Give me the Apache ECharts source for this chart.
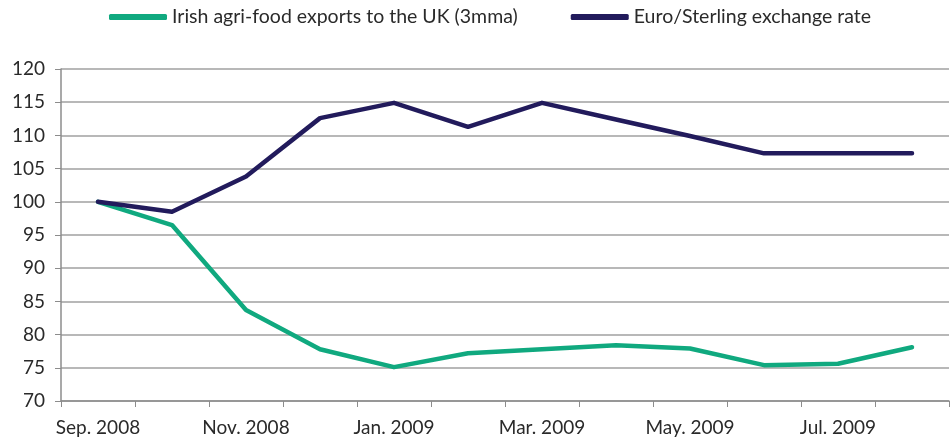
<!DOCTYPE html>
<html>
<head>
<meta charset="utf-8">
<script src="https://cdn.jsdelivr.net/npm/echarts@6/dist/echarts.min.js"></script>
<style>
  html, body { margin: 0; padding: 0; background: #fff; }
  #chart { width: 951px; height: 438px; }
</style>
</head>
<body>
<div id="chart"></div>
<script>
// Monthly index, Sep. 2008 = 100
const months = ['Sep. 2008', 'Oct. 2008', 'Nov. 2008', 'Dec. 2008', 'Jan. 2009', 'Feb. 2009',
                'Mar. 2009', 'Apr. 2009', 'May. 2009', 'Jun. 2009', 'Jul. 2009', 'Aug. 2009'];
const agriFoodExports = [100, 96.5, 83.7, 77.8, 75.1, 77.2, 77.8, 78.4, 77.9, 75.4, 75.6, 78.1];
const euroSterling = [100, 98.5, 103.8, 112.6, 114.9, 111.3, 114.9, 112.4, 109.9, 107.3, 107.3, 107.3];
const seriesNames = ['Irish agri-food exports to the UK (3mma)', 'Euro/Sterling exchange rate'];

const font = 'Lato, "Open Sans", sans-serif';
const textColor = '#2a2a2a';
const axisGrey = '#8c8c8c';

const chart = echarts.init(document.getElementById('chart'));
chart.setOption({
  animation: false,
  backgroundColor: '#fff',
  color: ['#10a97f', '#221b5c'],
  legend: {
    top: 7,
    left: 109,
    padding: 0,
    itemWidth: 58,
    itemHeight: 6,
    itemGap: 53,
    icon: 'roundRect',
    textStyle: { fontFamily: font, fontSize: 19.5, color: textColor },
    data: seriesNames
  },
  grid: { left: 61, right: 2, top: 69, bottom: 37, containLabel: false },
  xAxis: {
    type: 'category',
    data: months,
    boundaryGap: true,
    axisLine: { lineStyle: { color: axisGrey, width: 1.5 } },
    axisTick: { show: true, interval: 0, length: 6, lineStyle: { color: axisGrey } },
    axisLabel: { interval: 1, margin: 17, fontFamily: font, fontSize: 19, color: textColor },
    splitLine: { show: false }
  },
  yAxis: {
    type: 'value',
    min: 70,
    max: 120,
    interval: 5,
    axisLine: { show: true, lineStyle: { color: axisGrey, width: 1.5 } },
    axisTick: { show: true, length: 6, lineStyle: { color: axisGrey } },
    axisLabel: { margin: 16, fontFamily: font, fontSize: 19, color: textColor },
    splitLine: { lineStyle: { color: '#a0a0a0', width: 1.5 } }
  },
  series: [
    {
      name: seriesNames[0],
      type: 'line',
      data: agriFoodExports,
      symbol: 'none',
      lineStyle: { width: 4.5, cap: 'round', join: 'round' }
    },
    {
      name: seriesNames[1],
      type: 'line',
      data: euroSterling,
      symbol: 'none',
      lineStyle: { width: 4.5, cap: 'round', join: 'round' }
    }
  ]
});
</script>
</body>
</html>
